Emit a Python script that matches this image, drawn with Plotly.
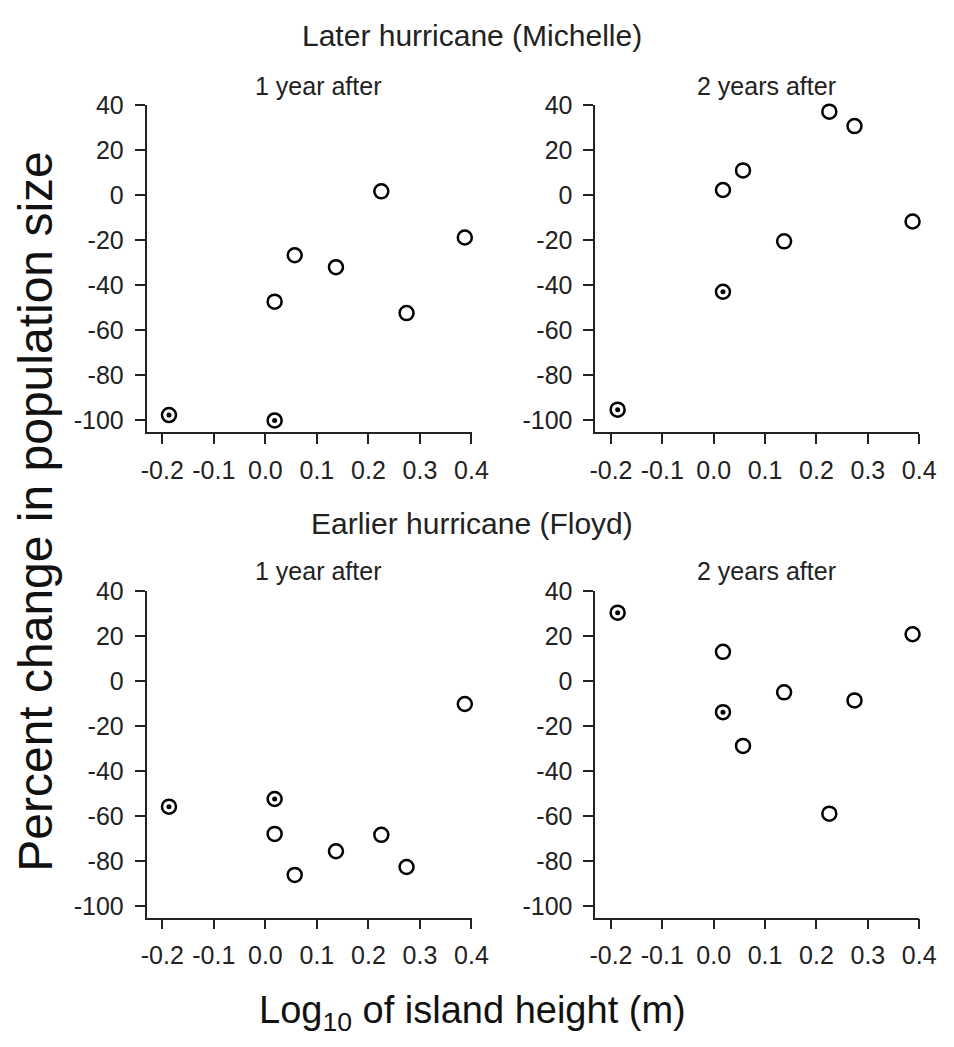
import plotly.graph_objects as go

# log10 island height for the 8 islands (two islands share ~0.018)
height = [-0.187, 0.018, 0.018, 0.057, 0.137, 0.225, 0.274, 0.387]
# islands marked with a centre dot
dotted = [True, True, False, False, False, False, False, False]

michelle_1y = [-97.6, -100.0, -47.2, -26.6, -31.9, 1.8, -52.3, -18.7]
michelle_2y = [-95.2, -42.8, 2.4, 11.1, -20.4, 37.2, 30.8, -11.6]
floyd_1y = [-55.8, -52.4, -67.9, -86.1, -75.6, -68.3, -82.6, -10.2]
floyd_2y = [30.4, -13.8, 13.0, -28.8, -5.0, -58.9, -8.6, 20.8]

x_ticks = [-0.2, -0.1, 0.0, 0.1, 0.2, 0.3, 0.4]
x_tick_text = ['-0.2', '-0.1', '0.0', '0.1', '0.2', '0.3', '0.4']
y_ticks = [40, 20, 0, -20, -40, -60, -80, -100]
y_tick_text = ['40', '20', '0', '-20', '-40', '-60', '-80', '-100']

panels = [michelle_1y, michelle_2y, floyd_1y, floyd_2y]
sub_titles = ['1 year after', '2 years after', '1 year after', '2 years after']

# page has an 8px body margin, so the figure is a bit smaller than the window
OFF = 8
W, H = 954 - 2 * OFF, 1047 - 2 * OFF


def px(xp):
    return (xp - OFF) / W


def py(yp):
    return 1 - (yp - OFF) / H


# page-pixel boxes of the plot areas (left, right, top, bottom)
boxes = [(144, 477, 92.7, 424.3), (604, 936, 92.7, 424.3),
         (144, 477, 586, 917.7), (604, 936, 586, 917.7)]

fig = go.Figure()
for i, vals in enumerate(panels):
    n = '' if i == 0 else str(i + 1)
    fig.add_trace(go.Scatter(
        x=height, y=vals, mode='markers', xaxis='x' + n, yaxis='y' + n,
        marker=dict(symbol='circle', size=14, color='white',
                    line=dict(color='black', width=2.5)),
        cliponaxis=False, showlegend=False, hoverinfo='x+y'))
    fig.add_trace(go.Scatter(
        x=[h for h, d in zip(height, dotted) if d],
        y=[v for v, d in zip(vals, dotted) if d],
        mode='markers', xaxis='x' + n, yaxis='y' + n,
        marker=dict(symbol='circle', size=5, color='black'),
        cliponaxis=False, showlegend=False, hoverinfo='skip'))

layout = dict(width=W, height=H, margin=dict(l=0, r=0, t=0, b=0),
              plot_bgcolor='white', paper_bgcolor='white',
              font=dict(family='Liberation Sans, Arial', color='#222'))
for i, (l, r, t, b) in enumerate(boxes):
    n = '' if i == 0 else str(i + 1)
    layout['xaxis' + n] = dict(
        domain=[px(l), px(r)], range=[-0.2303, 0.4], anchor='y' + n,
        tickvals=x_ticks, ticktext=x_tick_text, ticks='outside', ticklen=10,
        tickwidth=1.8, tickcolor='#222', showline=True, linecolor='#222',
        linewidth=1.8, showgrid=False, zeroline=False,
        tickfont=dict(size=25), ticklabelstandoff=5)
    layout['yaxis' + n] = dict(
        domain=[py(b), py(t)], range=[-105.06, 40], anchor='x' + n,
        tickvals=y_ticks, ticktext=y_tick_text, ticks='outside', ticklen=10,
        tickwidth=1.8, tickcolor='#222', showline=True, linecolor='#222',
        linewidth=1.8, showgrid=False, zeroline=False,
        tickfont=dict(size=25), ticklabelstandoff=6)
fig.update_layout(**layout)

ann = []
for (l, r, t, b), txt in zip(boxes, sub_titles):
    ann.append(dict(text=txt, x=px((l + r) / 2 + 9), y=py(t - 20),
                    xref='paper', yref='paper', showarrow=False,
                    xanchor='center', yanchor='middle', font=dict(size=25)))
ann.append(dict(text='Later hurricane (Michelle)', x=px(478), y=py(22),
                xref='paper', yref='paper', showarrow=False, xanchor='center',
                yanchor='middle', font=dict(size=30)))
ann.append(dict(text='Earlier hurricane (Floyd)', x=px(478), y=py(517),
                xref='paper', yref='paper', showarrow=False, xanchor='center',
                yanchor='middle', font=dict(size=30)))
ann.append(dict(text='Percent change in population size', x=px(30),
                y=py(505), xref='paper', yref='paper', showarrow=False,
                textangle=-90, xanchor='center', yanchor='middle',
                font=dict(size=48, color='#111')))
ann.append(dict(text='Log<sub>10</sub> of island height (m)', x=px(478),
                y=py(1015), xref='paper', yref='paper', showarrow=False,
                xanchor='center', yanchor='middle',
                font=dict(size=38, color='#111')))
fig.update_layout(annotations=ann)

fig.write_html('out.html')
